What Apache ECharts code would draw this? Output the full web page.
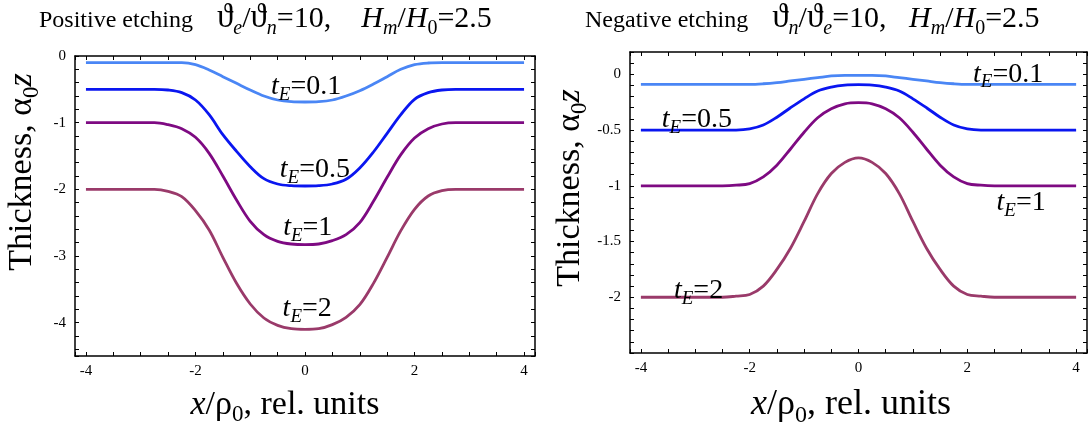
<!DOCTYPE html>
<html><head><meta charset="utf-8">
<script src="https://cdn.jsdelivr.net/npm/echarts@6/dist/echarts.min.js"></script>
<style>html,body{margin:0;padding:0;background:#fff}#c{width:1090px;height:427px}</style>
</head><body><div id="c"></div>
<script>
// ---- data ----
const xValues = [-4,-3.5,-3,-2.75,-2.5,-2.25,-2,-1.75,-1.5,-1.25,-1,-0.75,-0.5,-0.25,0,0.25,0.5,0.75,1,1.25,1.5,1.75,2,2.25,2.5,2.75,3,3.5,4];
// Positive etching
const posT01 = [-0.1,-0.1,-0.1,-0.1,-0.1,-0.1,-0.13,-0.21,-0.31,-0.41,-0.51,-0.6,-0.66,-0.685,-0.69,-0.685,-0.66,-0.6,-0.52,-0.42,-0.31,-0.2,-0.13,-0.105,-0.1,-0.1,-0.1,-0.1,-0.1];
const posT05 = [-0.5,-0.5,-0.5,-0.5,-0.51,-0.55,-0.66,-0.88,-1.18,-1.43,-1.66,-1.84,-1.92,-1.945,-1.95,-1.945,-1.92,-1.85,-1.68,-1.44,-1.16,-0.88,-0.65,-0.55,-0.51,-0.5,-0.5,-0.5,-0.5];
const posT1  = [-1,-1,-1,-1,-1.03,-1.09,-1.22,-1.46,-1.8,-2.16,-2.48,-2.68,-2.78,-2.82,-2.83,-2.82,-2.77,-2.68,-2.5,-2.18,-1.82,-1.48,-1.23,-1.09,-1.02,-1,-1,-1,-1];
const posT2  = [-2,-2,-2,-2,-2.03,-2.11,-2.32,-2.61,-3.02,-3.41,-3.72,-3.93,-4.04,-4.09,-4.1,-4.09,-4.03,-3.92,-3.73,-3.41,-3.02,-2.62,-2.3,-2.1,-2.02,-2,-2,-2,-2];
// Negative etching
const negT01 = [-0.09,-0.09,-0.09,-0.09,-0.09,-0.09,-0.09,-0.085,-0.075,-0.06,-0.045,-0.03,-0.015,-0.01,-0.01,-0.01,-0.015,-0.03,-0.045,-0.06,-0.075,-0.085,-0.09,-0.09,-0.09,-0.09,-0.09,-0.09,-0.09];
const negT05 = [-0.5,-0.5,-0.5,-0.5,-0.5,-0.5,-0.49,-0.455,-0.385,-0.3,-0.22,-0.15,-0.115,-0.097,-0.093,-0.097,-0.115,-0.15,-0.22,-0.3,-0.385,-0.455,-0.49,-0.5,-0.5,-0.5,-0.5,-0.5,-0.5];
const negT1  = [-1,-1,-1,-1,-1,-0.995,-0.98,-0.92,-0.815,-0.67,-0.52,-0.39,-0.31,-0.265,-0.255,-0.265,-0.31,-0.39,-0.52,-0.67,-0.815,-0.92,-0.98,-0.995,-1,-1,-1,-1,-1];
const negT2  = [-2,-2,-2,-2,-2,-1.99,-1.975,-1.9,-1.75,-1.56,-1.32,-1.07,-0.89,-0.79,-0.75,-0.79,-0.89,-1.07,-1.32,-1.56,-1.75,-1.9,-1.975,-1.99,-2,-2,-2,-2,-2];
const seriesLabels = ['0.1','0.5','1','2'];
const posLabelAt = [[0.02,-0.465],[0.18,-1.71],[0.05,-2.58],[0.04,-3.79]];
const negLabelAt = [[2.75,0.0],[-2.97,-0.41],[2.99,-1.15],[-2.94,-1.94]];
const xTickLabels = [-4,-2,0,2,4];
const posYTickLabels = [0,-1,-2,-3,-4];
const negYTickLabels = [0,-0.5,-1,-1.5,-2];

// ---- styling ----
const FONT = '"Liberation Serif","Times New Roman",serif';
const colors = ['#4a86f5','#0a16f0','#7e0a82','#9a3a6a'];
function fmt(list){ return v => list.some(t => Math.abs(t - v) < 1e-6) ? String(v) : ''; }
function rich(size){
  const sub = Math.round(size*0.68);
  const pt = Math.round(size*0.58);
  const subLH = Math.round(size*0.2);
  return {
    n:{fontFamily:FONT,fontSize:size,lineHeight:size,color:'#000'},
    i:{fontFamily:FONT,fontSize:size,lineHeight:size,fontStyle:'italic',color:'#000'},
    s:{fontFamily:FONT,fontSize:sub,lineHeight:subLH,padding:[pt,0,0,0],color:'#000'},
    si:{fontFamily:FONT,fontSize:sub,lineHeight:subLH,padding:[pt,0,0,0],fontStyle:'italic',color:'#000'}
  };
}
// title: text 24px, math 30px, theta 33px, subscripts 20px; all on a 36px line
const titleRich = {
  h:{fontFamily:FONT,fontSize:36,lineHeight:36,color:'#000'},
  t:{fontFamily:FONT,fontSize:24,lineHeight:24,padding:[4,0,0,0],color:'#000'},
  m:{fontFamily:FONT,fontSize:30,lineHeight:30,color:'#000'},
  mi:{fontFamily:FONT,fontSize:30,lineHeight:30,fontStyle:'italic',color:'#000'},
  g:{fontFamily:FONT,fontSize:33,lineHeight:33,padding:[0,0,2,0],color:'#000'},
  s:{fontFamily:FONT,fontSize:20,lineHeight:8,padding:[19,0,0,0],color:'#000'},
  si:{fontFamily:FONT,fontSize:20,lineHeight:8,padding:[19,0,0,0],fontStyle:'italic',color:'#000'}
};
const tickStyle = {show:true,inside:true,length:4,lineStyle:{color:'#000',width:1}};
const lineStyle = {show:true,onZero:false,lineStyle:{color:'#000',width:1.5}};
function xAx(g,pos,labels){
  return {type:'value',gridIndex:g,position:pos,min:-4.2,max:4.2,minInterval:0.5,maxInterval:0.5,
    axisLine:lineStyle,axisTick:tickStyle,splitLine:{show:false},
    axisLabel:{show:!!labels,formatter:labels?fmt(labels):'',fontFamily:FONT,fontSize:15,color:'#000',margin:8}};
}
function yAx(g,pos,min,max,step,labels){
  return {type:'value',gridIndex:g,position:pos,min:min,max:max,minInterval:step,maxInterval:step,
    axisLine:lineStyle,axisTick:tickStyle,splitLine:{show:false},
    axisLabel:{show:!!labels,formatter:labels?fmt(labels):'',fontFamily:FONT,fontSize:15,color:'#000',margin:9}};
}
function curve(vals,k,xi,yi){
  return {type:'line',xAxisIndex:xi,yAxisIndex:yi,data:xValues.map((x,i)=>[x,vals[i]]),
    showSymbol:false,symbol:'none',smooth:0.35,lineStyle:{color:colors[k],width:2.8},z:3};
}
function labelSeries(pos,xi,yi){
  return {type:'scatter',xAxisIndex:xi,yAxisIndex:yi,symbolSize:0,z:5,silent:true,
    itemStyle:{color:'#000',opacity:1},
    data:pos.map((p,i)=>({value:p,name:seriesLabels[i]})),
    label:{show:true,position:'inside',color:'#000',textBorderWidth:0,opacity:1,
      formatter:p=>'{i|t}{si|E}{n|='+p.name+'}',rich:rich(28)}};
}
function gtext(x,y,text,r,rot,align){
  return {type:'text',x:x,y:y,rotation:rot||0,
    style:{text:text,rich:r,align:align||'center',verticalAlign:'middle',fill:'#000'}};
}

const chart = echarts.init(document.getElementById('c'),null,{renderer:'canvas'});
chart.setOption({
  backgroundColor:'#fff',
  animation:false,
  grid:[{left:75,top:56,width:460,height:300},{left:630,top:52,width:458,height:301}],
  xAxis:[xAx(0,'bottom',xTickLabels),xAx(0,'top',null),xAx(1,'bottom',xTickLabels),xAx(1,'top',null)],
  yAxis:[yAx(0,'left',-4.5,0,0.2,posYTickLabels),yAx(0,'right',-4.5,0,0.2,null),
         yAx(1,'left',-2.5,0.2,0.1,negYTickLabels),yAx(1,'right',-2.5,0.2,0.1,null)],
  series:[
    curve(posT01,0,0,0),curve(posT05,1,0,0),curve(posT1,2,0,0),curve(posT2,3,0,0),
    curve(negT01,0,2,2),curve(negT05,1,2,2),curve(negT1,2,2,2),curve(negT2,3,2,2),
    labelSeries(posLabelAt,0,0),labelSeries(negLabelAt,2,2)
  ],
  graphic:[
    gtext(39,19,'{h|}{t|Positive etching    }{g|ϑ}{si|e}{m|/}{g|ϑ}{si|n}{m|=10,    }{mi|H}{si|m}{m|/}{mi|H}{s|0}{m|=2.5}',titleRich,0,'left'),
    gtext(585,19,'{h|}{t|Negative etching    }{g|ϑ}{si|n}{m|/}{g|ϑ}{si|e}{m|=10,   }{mi|H}{si|m}{m|/}{mi|H}{s|0}{m|=2.5}',titleRich,0,'left'),
    gtext(22,172,'{n|Thickness, α}{s|0}{i|z}',rich(34),Math.PI/2),
    gtext(570,188,'{n|Thickness, α}{s|0}{i|z}',rich(34),Math.PI/2),
    gtext(285,405,'{i|x}{n|/ρ}{s|0}{n|, rel. units}',rich(34)),
    gtext(851,405,'{i|x}{n|/ρ}{s|0}{n|, rel. units}',rich(36))
  ]
});
</script></body></html>
